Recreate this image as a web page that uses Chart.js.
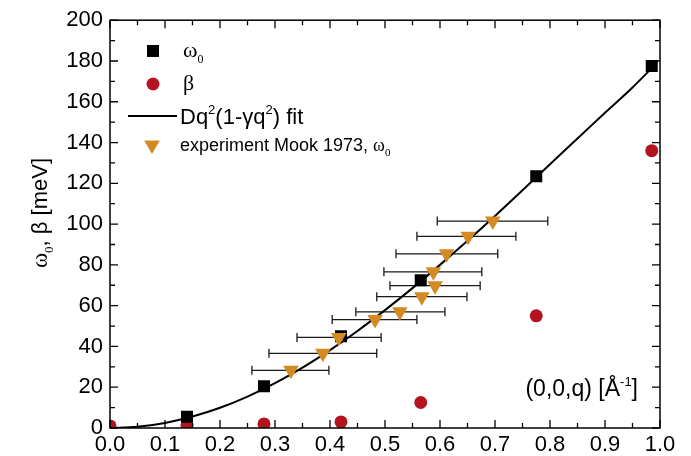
<!DOCTYPE html>
<html>
<head>
<meta charset="utf-8">
<script src="https://cdn.jsdelivr.net/npm/chart.js@4.4.0/dist/chart.umd.min.js"></script>
<style>
  html, body { margin: 0; padding: 0; background: #fff; }
  #wrap { width: 691px; height: 456px; }
</style>
</head>
<body>
<div id="wrap"><canvas id="chart" width="691" height="456"></canvas></div>
<script>
// ---- data ----
const omegaQ = [0.14, 0.28, 0.42, 0.565, 0.775, 0.985];
const omega0 = [5.5, 20.5, 45, 72.5, 123.5, 177.5];

const betaQ = [0, 0.14, 0.28, 0.42, 0.565, 0.775, 0.985];
const beta = [1, 1.5, 2, 3, 12.5, 55, 136];

const fitQ = [0, 0.05, 0.1, 0.15, 0.2, 0.25, 0.3, 0.35, 0.4, 0.45, 0.5,
  0.55, 0.6, 0.65, 0.7, 0.75, 0.8, 0.85, 0.9, 0.95, 0.985];
const fitVals = [0, 0.6, 2.5, 5.6, 9.9, 15.4, 22, 29.6, 38.2, 47.6, 57.8,
  68.6, 80, 91.8, 104, 116.6, 129.4, 142, 154.6, 167, 176.5];

const mookQ = [0.329, 0.387, 0.416, 0.482, 0.527, 0.567, 0.591, 0.588, 0.612, 0.651, 0.696];
const mookW = [28.3, 36.6, 44.4, 53.2, 57, 64.4, 69.8, 76.6, 85.4, 94, 101.5];
const mookQLo = [0.258, 0.289, 0.340, 0.404, 0.447, 0.485, 0.509, 0.498, 0.520, 0.558, 0.595];
const mookQHi = [0.398, 0.485, 0.493, 0.558, 0.609, 0.649, 0.673, 0.676, 0.705, 0.738, 0.796];

const xTicks = [0, 0.1, 0.2, 0.3, 0.4, 0.5, 0.6, 0.7, 0.8, 0.9, 1.0];
const yTicks = [0, 20, 40, 60, 80, 100, 120, 140, 160, 180, 200];

// ---- style ----
const SANS = '"Liberation Sans", Arial, sans-serif';
const SERIF = '"Liberation Serif", "Times New Roman", serif';
const RED = "#b3141f";
const ORANGE = "#d48a22";

const pts = (xs, ys) => xs.map((x, i) => ({ x, y: ys[i] }));

/* rich text: parts = [{t, size, fam, dy}] drawn from x on baseline y */
function richWidth(ctx, parts) {
  let w = 0;
  parts.forEach((p) => {
    ctx.font = `${p.size}px ${p.fam}`;
    w += ctx.measureText(p.t).width;
  });
  return w;
}
function drawRich(ctx, parts, x, y) {
  let cx = x;
  ctx.textAlign = "left";
  ctx.textBaseline = "alphabetic";
  parts.forEach((p) => {
    ctx.font = `${p.size}px ${p.fam}`;
    ctx.fillText(p.t, cx, y + (p.dy || 0));
    cx += ctx.measureText(p.t).width;
  });
}

/* error bars on the Mook data, below the markers */
const errorBars = {
  id: "errorBars",
  beforeDatasetsDraw(chart) {
    const { ctx, scales: { x, y } } = chart;
    ctx.save();
    ctx.strokeStyle = "#1a1a1a";
    ctx.lineWidth = 1.3;
    mookW.forEach((w, i) => {
      const yp = y.getPixelForValue(w);
      const xl = x.getPixelForValue(mookQLo[i]);
      const xh = x.getPixelForValue(mookQHi[i]);
      ctx.beginPath();
      ctx.moveTo(xl, yp); ctx.lineTo(xh, yp);
      ctx.moveTo(xl, yp - 4.5); ctx.lineTo(xl, yp + 4.5);
      ctx.moveTo(xh, yp - 4.5); ctx.lineTo(xh, yp + 4.5);
      ctx.stroke();
    });
    ctx.restore();
  },
};

/* frame, inward ticks, legend and labels */
const decorations = {
  id: "decorations",
  afterDraw(chart) {
    const { ctx, chartArea: a, scales: { x, y } } = chart;
    ctx.save();
    ctx.strokeStyle = "#000";
    ctx.fillStyle = "#000";
    ctx.lineWidth = 1.5;
    ctx.strokeRect(a.left, a.top, a.right - a.left, a.bottom - a.top);

    ctx.lineWidth = 1.3;
    ctx.beginPath();
    for (let k = 0; k <= 20; k++) {
      const px = x.getPixelForValue(k / 20);
      const len = k % 2 === 0 ? 8 : 5;
      ctx.moveTo(px, a.bottom); ctx.lineTo(px, a.bottom - len);
      ctx.moveTo(px, a.top); ctx.lineTo(px, a.top + len);
    }
    for (let k = 0; k <= 20; k++) {
      const py = y.getPixelForValue(k * 10);
      const len = k % 2 === 0 ? 8 : 5;
      ctx.moveTo(a.left, py); ctx.lineTo(a.left + len, py);
      ctx.moveTo(a.right, py); ctx.lineTo(a.right - len, py);
    }
    ctx.stroke();

    // legend
    const ds = chart.data.datasets;
    const mark = (d, px, py) => {
      ctx.fillStyle = d.backgroundColor;
      Chart.helpers.drawPoint(ctx, {
        pointStyle: d.pointStyle, radius: d.pointRadius,
        rotation: d.pointRotation || 0, borderWidth: 0,
      }, px, py);
      ctx.fillStyle = "#000";
    };
    mark(ds[0], 153, 51);
    drawRich(ctx, [{ t: "ω", size: 22, fam: SERIF }, { t: "0", size: 12, fam: SERIF, dy: 6 }], 183, 57);
    mark(ds[1], 153, 84);
    drawRich(ctx, [{ t: "β", size: 22, fam: SERIF }], 183, 90);
    ctx.lineWidth = 2;
    ctx.beginPath(); ctx.moveTo(128, 116); ctx.lineTo(177, 116); ctx.stroke();
    drawRich(ctx, [
      { t: "Dq", size: 22, fam: SANS }, { t: "2", size: 13, fam: SANS, dy: -10 },
      { t: "(1-γq", size: 22, fam: SANS }, { t: "2", size: 13, fam: SANS, dy: -10 },
      { t: ") fit", size: 22, fam: SANS },
    ], 180, 124);
    mark(ds[3], 152, 145);
    drawRich(ctx, [
      { t: "experiment Mook 1973, ", size: 18, fam: SANS },
      { t: "ω", size: 18, fam: SERIF }, { t: "0", size: 11, fam: SERIF, dy: 5 },
    ], 180, 151);

    // axis label inside the plot
    const qParts = [
      { t: "(0,0,q) [Å", size: 23, fam: SANS }, { t: "-1", size: 13, fam: SANS, dy: -10 },
      { t: "]", size: 23, fam: SANS },
    ];
    drawRich(ctx, qParts, 638 - richWidth(ctx, qParts), 396);

    // y title
    const yParts = [
      { t: "ω", size: 23, fam: SERIF }, { t: "0", size: 13, fam: SERIF, dy: 6 },
      { t: ", β [meV]", size: 22, fam: SANS },
    ];
    ctx.translate(40, 213);
    ctx.rotate(-Math.PI / 2);
    drawRich(ctx, yParts, -richWidth(ctx, yParts) / 2, 7);
    ctx.restore();
  },
};

new Chart(document.getElementById("chart"), {
  type: "scatter",
  data: {
    datasets: [
      {
        label: "ω0",
        data: pts(omegaQ, omega0),
        pointStyle: "rect",
        pointRadius: 8.5,
        backgroundColor: "#000",
        borderWidth: 0,
        clip: 0,
        order: 2,
      },
      {
        label: "β",
        data: pts(betaQ, beta),
        pointStyle: "circle",
        pointRadius: 6.5,
        backgroundColor: RED,
        borderWidth: 0,
        clip: 0,
        order: 3,
      },
      {
        label: "fit",
        data: pts(fitQ, fitVals),
        showLine: true,
        pointRadius: 0,
        borderColor: "#000",
        borderWidth: 2,
        cubicInterpolationMode: "monotone",
        clip: 0,
        order: 1,
      },
      {
        label: "experiment Mook 1973, ω0",
        data: pts(mookQ, mookW),
        pointStyle: "triangle",
        pointRotation: 180,
        pointRadius: 9,
        backgroundColor: ORANGE,
        borderWidth: 0,
        clip: 0,
        order: 0,
      },
    ],
  },
  options: {
    responsive: false,
    animation: false,
    events: [],
    layout: { padding: { top: 18, right: 31, left: 0, bottom: 0 } },
    plugins: { legend: { display: false }, tooltip: { enabled: false } },
    scales: {
      x: {
        type: "linear",
        min: 0,
        max: 1,
        afterFit: (s) => { s.height = 28; },
        afterBuildTicks: (s) => { s.ticks = xTicks.map((v) => ({ value: v })); },
        grid: { display: false, drawTicks: false },
        border: { display: false },
        ticks: {
          padding: 4,
          color: "#000",
          font: { family: SANS, size: 22 },
          callback: (v) => Number(v).toFixed(1),
        },
      },
      y: {
        type: "linear",
        min: 0,
        max: 200,
        afterFit: (s) => { s.width = 110; },
        afterBuildTicks: (s) => { s.ticks = yTicks.map((v) => ({ value: v })); },
        grid: { display: false, drawTicks: false },
        border: { display: false },
        ticks: {
          padding: 7,
          color: "#000",
          font: { family: SANS, size: 22 },
        },
      },
    },
  },
  plugins: [errorBars, decorations],
});
</script>
</body>
</html>
